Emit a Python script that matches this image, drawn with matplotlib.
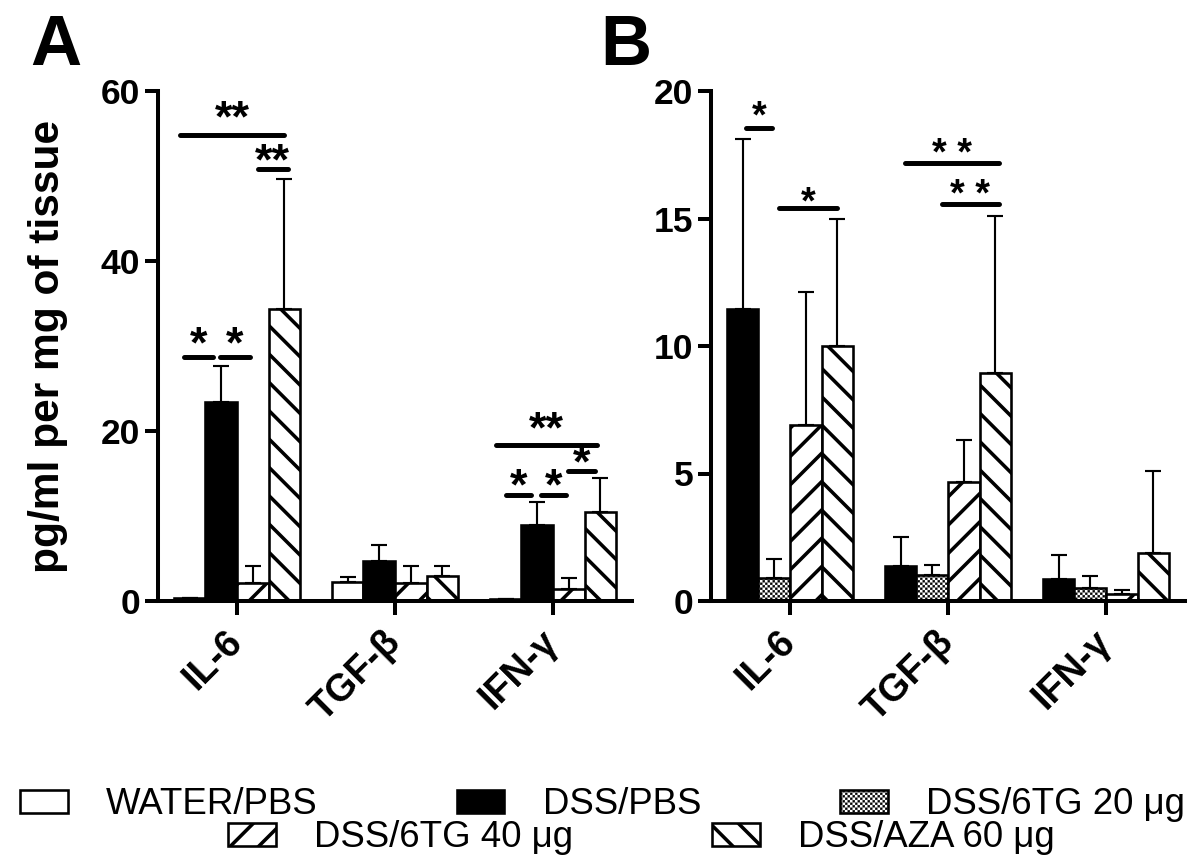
import warnings
import numpy as np
import matplotlib
matplotlib.use('Agg')
import matplotlib.pyplot as plt
from matplotlib import hatch as mhatch
from matplotlib.path import Path
from matplotlib.patches import Patch

# 'c' is our own hatch letter (checkerboard), mpl warns about it
warnings.filterwarnings('ignore')

cytokines = ['IL-6', 'TGF-β', 'IFN-γ']

# panel A : WATER/PBS, DSS/PBS, DSS/6TG 40, DSS/AZA 60  (mean, SD)
a_water = [0.3, 2.2, 0.2]
a_water_sd = [0.0, 0.6, 0.0]
a_dss = [23.4, 4.7, 8.9]
a_dss_sd = [4.2, 1.9, 2.8]
a_6tg40 = [2.1, 2.1, 1.4]
a_6tg40_sd = [2.0, 2.0, 1.3]
a_aza = [34.3, 2.9, 10.5]
a_aza_sd = [15.3, 1.2, 4.0]

# panel B : DSS/PBS, DSS/6TG 20, DSS/6TG 40, DSS/AZA 60
b_dss = [11.45, 1.37, 0.86]
b_dss_sd = [6.65, 1.13, 0.95]
b_6tg20 = [0.9, 1.03, 0.5]
b_6tg20_sd = [0.76, 0.40, 0.5]
b_6tg40 = [6.92, 4.68, 0.28]
b_6tg40_sd = [5.18, 1.62, 0.15]
b_aza = [10.0, 8.94, 1.88]
b_aza_sd = [5.0, 6.16, 3.22]

# significance bars: (group, x0, x1, y of line, label, y of star baseline)
a_sig = [(0, -0.36, 0.30, 54.8, '**', 55.3),
         (0, 0.13, 0.32, 50.8, '**', 50.2),
         (0, -0.335, -0.15, 28.7, '*', 28.7),
         (0, -0.108, 0.082, 28.7, '*', 28.7),
         (2, -0.36, 0.28, 18.4, '**', 18.7),
         (2, -0.30, -0.14, 12.5, '*', 12.0),
         (2, -0.076, 0.082, 12.5, '*', 12.0),
         (2, 0.095, 0.266, 15.3, '*', 14.6)]
b_sig = [(0, -0.278, -0.114, 18.54, '*', 18.55),
         (0, -0.07, 0.30, 15.4, '*', 15.2),
         (1, -0.27, 0.32, 17.16, '* *', 17.1),
         (1, -0.04, 0.32, 15.57, '* *', 15.5)]


class CheckerHatch(mhatch.HatchPatternBase):
    # small black/white squares like the GraphPad checker fill
    def __init__(self, hatch, density):
        self.n = 68 if 'c' in hatch else 0
        self.num_vertices = (self.n * self.n // 2) * 5

    def set_vertices_and_codes(self, vertices, codes):
        d = 1.0 / self.n
        s = d * 0.85
        m = (d - s) / 2
        sq = np.array([[0, 0], [s, 0], [s, s], [0, s], [0, 0]]) + m
        parts = [sq + [i * d, j * d] for i in range(self.n)
                 for j in range(self.n) if (i + j) % 2 == 0]
        vertices[:] = np.concatenate(parts)
        codes[:] = np.tile([Path.MOVETO, Path.LINETO, Path.LINETO,
                            Path.LINETO, Path.CLOSEPOLY], len(parts))


mhatch._hatch_types.append(CheckerHatch)

plt.rcParams['font.family'] = ['Liberation Sans', 'DejaVu Sans']
plt.rcParams['hatch.linewidth'] = 1.5

DPI = 170
fig = plt.figure(figsize=(1200 / DPI, 859 / DPI), dpi=DPI)
axA = fig.add_axes([158 / 1200, 1 - 601 / 859, 474 / 1200, 510 / 859])
axB = fig.add_axes([711 / 1200, 1 - 601 / 859, 474 / 1200, 510 / 859])

styles = {
    'water': dict(facecolor='white', hatch=None),
    'dss': dict(facecolor='black', hatch=None),
    '6tg20': dict(facecolor='white', hatch='c'),
    '6tg40': dict(facecolor='white', hatch='//'),
    'aza': dict(facecolor='white', hatch='\\\\'),
}
offsets = [-0.3, -0.1, 0.1, 0.3]
x = np.arange(len(cytokines))


def thin_checker(p):
    # stroke of the hatch would merge the little squares
    if p.get_hatch() == 'c' and hasattr(p, 'set_hatch_linewidth'):
        p.set_hatch_linewidth(0.1)


def draw_bars(ax, series):
    for off, (key, vals, sd) in zip(offsets, series):
        bars = ax.bar(x + off, vals, width=0.2, edgecolor='black',
                      linewidth=1.1, **styles[key])
        for b in bars:
            thin_checker(b)
        ax.errorbar(x + off, vals, yerr=[np.zeros(len(vals)), sd],
                    fmt='none', ecolor='black', elinewidth=0.9,
                    capsize=3.4, capthick=0.9)


def draw_sig(ax, sig, star_size):
    for g, x0, x1, yl, lab, ys in sig:
        ax.plot([g + x0, g + x1], [yl, yl], color='black', lw=2.1,
                solid_capstyle='round', clip_on=False)
        ax.text(g + (x0 + x1) / 2, ys, lab, ha='center', va='baseline',
                fontsize=star_size, fontweight='bold')


def style_axis(ax, yticks):
    ax.set_xlim(-0.5, 2.5)
    ax.set_ylim(yticks[0], yticks[-1])
    ax.set_yticks(yticks)
    ax.set_xticks(x)
    ax.set_xticklabels(cytokines, rotation=45, ha='right', va='center',
                       rotation_mode='anchor')
    for s in ['top', 'right']:
        ax.spines[s].set_visible(False)
    for s in ['left', 'bottom']:
        ax.spines[s].set_linewidth(1.7)
    ax.tick_params(axis='y', direction='out', length=5.5, width=1.7, pad=2,
                   labelsize=15)
    ax.tick_params(axis='x', direction='out', length=6, width=1.7, pad=9,
                   labelsize=16)
    for t in ax.get_xticklabels() + ax.get_yticklabels():
        t.set_fontweight('bold')


draw_bars(axA, [('water', a_water, a_water_sd),
                ('dss', a_dss, a_dss_sd),
                ('6tg40', a_6tg40, a_6tg40_sd),
                ('aza', a_aza, a_aza_sd)])
draw_sig(axA, a_sig, 19)
style_axis(axA, [0, 20, 40, 60])
axA.set_ylabel('pg/ml per mg of tissue', fontsize=18, fontweight='bold',
               labelpad=14)

draw_bars(axB, [('dss', b_dss, b_dss_sd),
                ('6tg20', b_6tg20, b_6tg20_sd),
                ('6tg40', b_6tg40, b_6tg40_sd),
                ('aza', b_aza, b_aza_sd)])
draw_sig(axB, b_sig, 16)
style_axis(axB, [0, 5, 10, 15, 20])

fig.text(30 / 1200, 1 - 65 / 859, 'A', fontsize=30, fontweight='bold',
         va='baseline')
fig.text(600 / 1200, 1 - 65 / 859, 'B', fontsize=30, fontweight='bold',
         va='baseline')


# legend, two rows like the original
def patch(key, label):
    p = Patch(edgecolor='black', linewidth=1.1, label=label, **styles[key])
    thin_checker(p)
    return p


row1 = [patch('water', 'WATER/PBS'), patch('dss', 'DSS/PBS'),
        patch('6tg20', 'DSS/6TG 20 μg')]
row2 = [patch('6tg40', 'DSS/6TG 40 μg'), patch('aza', 'DSS/AZA 60 μg')]
leg_kw = dict(frameon=False, fontsize=15.5, handlelength=1.3,
              handleheight=0.6, handletextpad=1.05, columnspacing=3.8,
              borderpad=0, borderaxespad=0)
leg1 = fig.legend(handles=row1, loc='center left',
                  bbox_to_anchor=(20 / 1200, 0.063), ncol=3, **leg_kw)
leg2 = fig.legend(handles=row2, loc='center left',
                  bbox_to_anchor=(228 / 1200, 0.025), ncol=2, **leg_kw)
for leg in [leg1, leg2]:
    for p in leg.get_patches():
        thin_checker(p)

fig.savefig('out.png', dpi=DPI)
